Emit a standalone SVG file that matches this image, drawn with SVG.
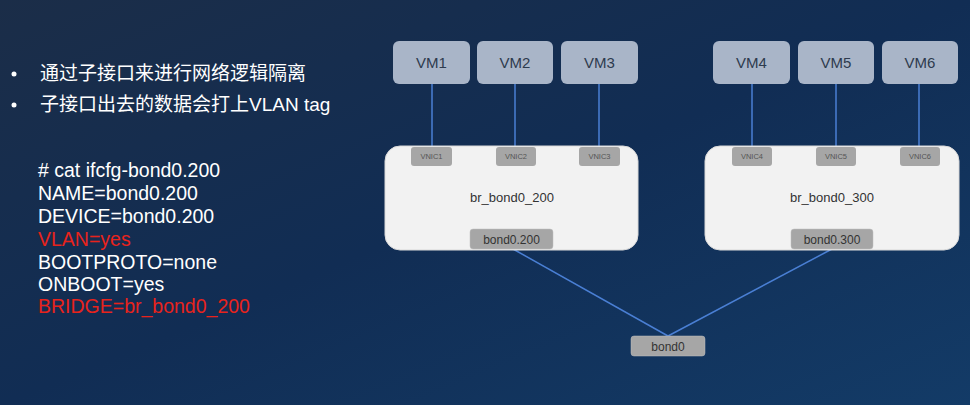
<svg xmlns="http://www.w3.org/2000/svg" width="970" height="405" viewBox="0 0 970 405">
<defs>
<linearGradient id="bg" x1="0" y1="0" x2="1" y2="1">
<stop offset="0" stop-color="#1b2d48"/>
<stop offset="0.5" stop-color="#112d54"/>
<stop offset="1" stop-color="#133b67"/>
</linearGradient>
<style>
.vm{fill:#a9b5c8;}
.vmt{font-family:"Liberation Sans","Noto Sans",sans-serif;font-size:15px;fill:#2e3b4e;text-anchor:middle;}
.br{fill:#f2f2f2;stroke:#d9d9d9;stroke-width:1;}
.brt{font-family:"Liberation Sans","Noto Sans",sans-serif;font-size:13px;fill:#333;text-anchor:middle;}
.nic{fill:#a6a6a6;}
.nict{font-family:"Liberation Sans","Noto Sans",sans-serif;font-size:7.5px;fill:#555;text-anchor:middle;}
.bd{fill:#a6a6a6;stroke:#bfbfbf;stroke-width:0.5;}
.bdt{font-family:"Liberation Sans","Noto Sans",sans-serif;font-size:12px;fill:#333;text-anchor:middle;}
.ln{stroke:#4a7fd4;stroke-width:1.5;fill:none;}
.txt{font-family:"Liberation Sans","Noto Sans CJK SC",sans-serif;font-size:19px;fill:#ffffff;}
.code{font-family:"Liberation Sans","Noto Sans",sans-serif;font-size:19.5px;fill:#ffffff;}
.red{fill:#e8231c;}
</style>
</defs>
<rect x="0" y="0" width="970" height="405" fill="url(#bg)"/>
<g id="bullets">
<circle cx="14" cy="74" r="2.5" fill="#fff"/>
<text class="txt" x="40" y="80">通过子接口来进行网络逻辑隔离</text>
<circle cx="14" cy="105" r="2.5" fill="#fff"/>
<text class="txt" x="40" y="111">子接口出去的数据会打上VLAN tag</text>
</g>
<g id="config">
<text class="code" x="38" y="177">#  cat ifcfg-bond0.200</text>
<text class="code" x="38" y="200">NAME=bond0.200</text>
<text class="code" x="38" y="223">DEVICE=bond0.200</text>
<text class="code red" x="38" y="246">VLAN=yes</text>
<text class="code" x="38" y="269">BOOTPROTO=none</text>
<text class="code" x="38" y="291">ONBOOT=yes</text>
<text class="code red" x="38" y="313">BRIDGE=br_bond0_200</text>
</g>
<g id="connectors">
<line class="ln" x1="432" y1="84" x2="432" y2="147"/>
<line class="ln" x1="515" y1="84" x2="515" y2="147"/>
<line class="ln" x1="599" y1="84" x2="599" y2="147"/>
<line class="ln" x1="752" y1="84" x2="752" y2="147"/>
<line class="ln" x1="836" y1="84" x2="836" y2="147"/>
<line class="ln" x1="919" y1="84" x2="919" y2="147"/>
<line class="ln" x1="513" y1="249" x2="668" y2="336"/>
<line class="ln" x1="832" y1="249" x2="668" y2="336"/>
</g>
<g id="vm1"><rect class="vm" x="393" y="41" width="77" height="43" rx="6"/><text class="vmt" x="431.5" y="68">VM1</text></g>
<g id="vm2"><rect class="vm" x="477" y="41" width="76" height="43" rx="6"/><text class="vmt" x="515" y="68">VM2</text></g>
<g id="vm3"><rect class="vm" x="561" y="41" width="77" height="43" rx="6"/><text class="vmt" x="599.5" y="68">VM3</text></g>
<g id="vm4"><rect class="vm" x="713" y="41" width="77" height="43" rx="6"/><text class="vmt" x="751.5" y="68">VM4</text></g>
<g id="vm5"><rect class="vm" x="798" y="41" width="76" height="43" rx="6"/><text class="vmt" x="836" y="68">VM5</text></g>
<g id="vm6"><rect class="vm" x="882" y="41" width="76" height="43" rx="6"/><text class="vmt" x="920" y="68">VM6</text></g>
<g id="br_bond0_200">
<rect class="br" x="385" y="146" width="253" height="104" rx="15"/>
<text class="brt" x="512" y="202">br_bond0_200</text>
</g>
<g id="br_bond0_300">
<rect class="br" x="705" y="146" width="254" height="104" rx="15"/>
<text class="brt" x="832" y="202">br_bond0_300</text>
</g>
<g id="vnic1"><rect class="nic" x="411" y="147" width="41" height="19" rx="3"/><text class="nict" x="431.5" y="159">VNIC1</text></g>
<g id="vnic2"><rect class="nic" x="496" y="147" width="40" height="19" rx="3"/><text class="nict" x="516" y="159">VNIC2</text></g>
<g id="vnic3"><rect class="nic" x="579" y="147" width="41" height="19" rx="3"/><text class="nict" x="599.5" y="159">VNIC3</text></g>
<g id="vnic4"><rect class="nic" x="732" y="147" width="40" height="19" rx="3"/><text class="nict" x="752" y="159">VNIC4</text></g>
<g id="vnic5"><rect class="nic" x="816" y="147" width="40" height="19" rx="3"/><text class="nict" x="836" y="159">VNIC5</text></g>
<g id="vnic6"><rect class="nic" x="900" y="147" width="40" height="19" rx="3"/><text class="nict" x="920" y="159">VNIC6</text></g>
<g id="bond0_200"><rect class="bd" x="470" y="229" width="83" height="20" rx="3"/><text class="bdt" x="511.5" y="243.5">bond0.200</text></g>
<g id="bond0_300"><rect class="bd" x="791" y="229" width="82" height="20" rx="3"/><text class="bdt" x="832" y="243.5">bond0.300</text></g>
<g id="bond0"><rect class="bd" x="631" y="336" width="74" height="20" rx="3"/><text class="bdt" x="668" y="350.5">bond0</text></g>
</svg>
